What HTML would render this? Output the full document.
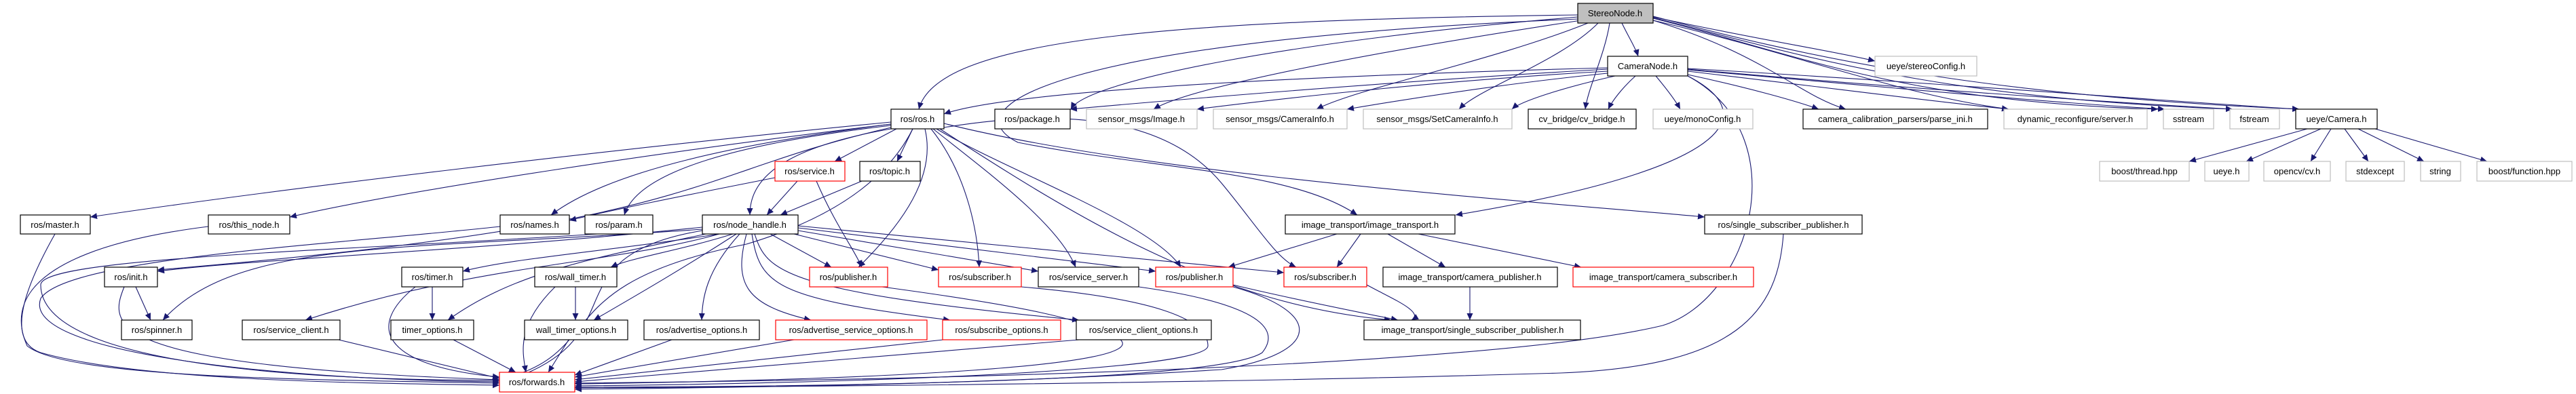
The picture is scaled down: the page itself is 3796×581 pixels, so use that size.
<!DOCTYPE html>
<html><head><meta charset="utf-8"><style>
html,body{margin:0;padding:0;background:#fff;}
svg{display:block;}
text{font-family:"Liberation Sans",sans-serif;font-size:13px;fill:#000;}
.b{fill:#fff;stroke:#000;stroke-width:1.2;}
.g{fill:#fff;stroke:#bfbfbf;stroke-width:1.2;}
.r{fill:#fff;stroke:#ff0000;stroke-width:1.2;}
.s{fill:#bfbfbf;stroke:#000;stroke-width:1.2;}
path.e{fill:none;stroke:#191970;stroke-width:1.1;marker-end:url(#a);}
</style></head><body>
<svg width="3796" height="581" viewBox="0 0 3796 581" xmlns="http://www.w3.org/2000/svg">
<defs><marker id="a" markerUnits="userSpaceOnUse" markerWidth="11" markerHeight="9" refX="10" refY="4.5" orient="auto"><path d="M0,0 L10,4.5 L0,9 z" fill="#191970"/></marker></defs>
<g>
<!-- StereoNode edges -->
<path class="e" d="M2325,22 C1700,30 1380,60 1354,161"/>
<path class="e" d="M2325,25 C1900,60 1600,120 1578,161"/>
<path class="e" d="M2330,30 C2000,80 1750,130 1700,161"/>
<path class="e" d="M2340,34 C2200,90 2000,130 1940,161"/>
<path class="e" d="M2355,34 C2300,90 2180,130 2150,161"/>
<path class="e" d="M2372,34 C2365,80 2340,130 2336,161"/>
<path class="e" d="M2390,34 C2400,55 2410,70 2414,83"/>
<path class="e" d="M2325,28 C1550,60 1400,160 1500,210 C1700,250 1900,250 2000,317"/>
<path class="e" d="M2436,25 C2600,60 2700,75 2763,90"/>
<path class="e" d="M2436,30 C2600,80 2650,140 2720,161"/>
<path class="e" d="M2436,30 C2650,80 2800,140 2960,161"/>
<path class="e" d="M2436,27 C2650,80 2800,150 3180,161"/>
<path class="e" d="M2436,26 C2650,80 2850,145 3290,161"/>
<path class="e" d="M2436,24 C2650,80 2900,140 3388,161"/>
<!-- CameraNode edges -->
<path class="e" d="M2369,100 C2000,110 1500,130 1391,168"/>
<path class="e" d="M2369,102 C2050,120 1700,150 1577,161"/>
<path class="e" d="M2369,105 C2100,120 1850,150 1764,161"/>
<path class="e" d="M2369,108 C2200,125 2050,150 1985,161"/>
<path class="e" d="M2380,112 C2300,130 2240,150 2228,161"/>
<path class="e" d="M2410,112 C2390,130 2375,150 2370,161"/>
<path class="e" d="M2440,112 C2455,130 2470,150 2476,161"/>
<path class="e" d="M2487,110 C2580,130 2650,150 2680,161"/>
<path class="e" d="M2487,105 C2700,130 2850,150 2960,161"/>
<path class="e" d="M2487,103 C2800,130 3000,150 3190,161"/>
<path class="e" d="M2487,102 C2800,130 3100,150 3290,161"/>
<path class="e" d="M2487,101 C2900,125 3200,150 3388,161"/>
<path class="e" d="M2487,112 C2600,170 2550,250 2145,317"/>
<path class="e" d="M2487,112 C2650,200 2580,440 2450,480 C2200,540 1400,560 847,565"/>
<!-- Camera.h -->
<path class="e" d="M3400,190 L3226,238"/>
<path class="e" d="M3420,190 L3310,238"/>
<path class="e" d="M3435,190 L3405,238"/>
<path class="e" d="M3455,190 L3490,238"/>
<path class="e" d="M3475,190 L3572,238"/>
<path class="e" d="M3500,190 L3665,238"/>
<!-- ros.h edges -->
<path class="e" d="M1313,180 C900,220 400,280 133,320"/>
<path class="e" d="M1313,183 C1000,220 600,280 427,320"/>
<path class="e" d="M1313,183 C1100,210 900,250 812,317"/>
<path class="e" d="M1313,185 C1100,210 940,250 920,317"/>
<path class="e" d="M1313,190 C1140,220 1105,270 1105,317"/>
<path class="e" d="M1321,190 L1230,238"/>
<path class="e" d="M1345,190 L1322,238"/>
<path class="e" d="M1313,188 C1000,260 1050,330 232,398"/>
<path class="e" d="M1363,190 C1380,260 1330,330 1265,394"/>
<path class="e" d="M1372,190 C1420,250 1440,330 1443,394"/>
<path class="e" d="M1375,190 C1450,250 1560,330 1585,394"/>
<path class="e" d="M1380,190 C1480,250 1700,330 1740,394"/>
<path class="e" d="M1391,188 C1500,170 1700,150 1800,270 C1850,330 1880,380 1910,394"/>
<path class="e" d="M1391,182 C1700,260 2300,300 2512,320"/>
<path class="e" d="M1385,190 C1600,330 1800,450 2050,472"/>
<path class="e" d="M1345,190 C1300,280 1200,330 1100,360 C800,420 900,520 736,560"/>
<!-- service.h -->
<path class="e" d="M1142,262 C1000,290 900,310 839,325"/>
<path class="e" d="M1175,267 L1130,317"/>
<path class="e" d="M1203,267 C1230,330 1260,370 1270,394"/>
<!-- topic -->
<path class="e" d="M1270,267 L1150,317"/>
<!-- image_transport -->
<path class="e" d="M1970,345 L1810,394"/>
<path class="e" d="M2005,345 L1970,394"/>
<path class="e" d="M2045,345 L2130,394"/>
<path class="e" d="M2090,345 L2330,394"/>
<path class="e" d="M2166,423 L2166,472"/>
<path class="e" d="M1817,420 C1900,440 2000,460 2060,472"/>
<path class="e" d="M2628,345 C2620,460 2560,540 2300,550 C1800,565 1200,570 847,572"/>
<!-- node_handle -->
<path class="e" d="M1035,335 C700,370 400,380 232,400"/>
<path class="e" d="M1035,338 C600,370 350,350 240,472"/>
<path class="e" d="M1060,345 C900,370 760,380 682,400"/>
<path class="e" d="M1080,345 C1000,370 930,380 900,394"/>
<path class="e" d="M1060,345 C900,390 700,390 450,472"/>
<path class="e" d="M1040,345 C880,380 760,400 660,472"/>
<path class="e" d="M1085,345 C1000,400 930,440 875,472"/>
<path class="e" d="M1090,345 C1040,400 1035,440 1034,472"/>
<path class="e" d="M1100,345 C1080,420 1100,450 1195,472"/>
<path class="e" d="M1108,345 C1120,420 1140,440 1400,472"/>
<path class="e" d="M1112,345 C1130,400 1150,430 1590,472"/>
<path class="e" d="M1135,345 L1225,394"/>
<path class="e" d="M1170,345 L1383,398"/>
<path class="e" d="M1176,340 L1530,400"/>
<path class="e" d="M1176,336 L1703,400"/>
<path class="e" d="M1176,333 L1892,402"/>
<path class="e" d="M1035,340 C800,380 950,500 736,565"/>
<!-- others to forwards -->
<path class="e" d="M81,345 C50,400 0,500 60,520 C200,560 500,565 736,568"/>
<path class="e" d="M307,334 C100,360 0,420 40,510 C100,560 500,560 736,565"/>
<path class="e" d="M737,334 C500,360 100,380 60,440 C30,520 400,560 736,563"/>
<path class="e" d="M880,345 C500,370 60,380 60,420 C60,560 600,560 736,561"/>
<path class="e" d="M183,423 C160,480 150,540 736,560"/>
<path class="e" d="M200,423 L222,472"/>
<path class="e" d="M499,501 L736,558"/>
<path class="e" d="M612,423 C540,480 560,540 736,556"/>
<path class="e" d="M637,423 L637,472"/>
<path class="e" d="M668,501 L760,549"/>
<path class="e" d="M818,423 C760,480 770,520 775,549"/>
<path class="e" d="M848,423 L848,472"/>
<path class="e" d="M838,501 L808,549"/>
<path class="e" d="M990,501 L847,553"/>
<path class="e" d="M1170,501 L847,556"/>
<path class="e" d="M1390,501 L847,560"/>
<path class="e" d="M1590,501 L847,563"/>
<path class="e" d="M1300,423 C1500,450 1600,470 1650,500 C1700,540 1300,560 847,566"/>
<path class="e" d="M1505,423 C1700,440 1780,470 1780,510 C1780,545 1300,565 847,569"/>
<path class="e" d="M1678,423 C1800,440 1900,470 1860,520 C1800,560 1300,570 847,571"/>
<path class="e" d="M1817,423 C1950,460 1950,520 1800,545 C1400,570 1000,572 847,574"/>
<path class="e" d="M2014,420 C2050,440 2100,460 2080,472"/>
</g>
<g>
<!-- Row 1 -->
<rect class="s" x="2325" y="5" width="111" height="29"/><text x="2380" y="24" text-anchor="middle">StereoNode.h</text>
<!-- Row 2 -->
<rect class="b" x="2369" y="83" width="118" height="29"/><text x="2428" y="102" text-anchor="middle">CameraNode.h</text>
<rect class="g" x="2763" y="83" width="150" height="29"/><text x="2838" y="102" text-anchor="middle">ueye/stereoConfig.h</text>
<!-- Row 3 -->
<rect class="b" x="1313" y="161" width="78" height="29"/><text x="1352" y="180" text-anchor="middle">ros/ros.h</text>
<rect class="b" x="1466" y="161" width="111" height="29"/><text x="1521" y="180" text-anchor="middle">ros/package.h</text>
<rect class="g" x="1601" y="161" width="163" height="29"/><text x="1682" y="180" text-anchor="middle">sensor_msgs/Image.h</text>
<rect class="g" x="1788" y="161" width="197" height="29"/><text x="1886" y="180" text-anchor="middle">sensor_msgs/CameraInfo.h</text>
<rect class="g" x="2009" y="161" width="219" height="29"/><text x="2118" y="180" text-anchor="middle">sensor_msgs/SetCameraInfo.h</text>
<rect class="b" x="2252" y="161" width="159" height="29"/><text x="2331" y="180" text-anchor="middle">cv_bridge/cv_bridge.h</text>
<rect class="g" x="2436" y="161" width="147" height="29"/><text x="2509" y="180" text-anchor="middle">ueye/monoConfig.h</text>
<rect class="b" x="2657" y="161" width="272" height="29"/><text x="2793" y="180" text-anchor="middle">camera_calibration_parsers/parse_ini.h</text>
<rect class="g" x="2953" y="161" width="211" height="29"/><text x="3058" y="180" text-anchor="middle">dynamic_reconfigure/server.h</text>
<rect class="g" x="3188" y="161" width="74" height="29"/><text x="3225" y="180" text-anchor="middle">sstream</text>
<rect class="g" x="3286" y="161" width="73" height="29"/><text x="3322" y="180" text-anchor="middle">fstream</text>
<rect class="b" x="3383" y="161" width="120" height="29"/><text x="3443" y="180" text-anchor="middle">ueye/Camera.h</text>
<!-- Row 4 -->
<rect class="r" x="1142" y="238" width="103" height="29"/><text x="1193" y="257" text-anchor="middle">ros/service.h</text>
<rect class="b" x="1267" y="238" width="89" height="29"/><text x="1311" y="257" text-anchor="middle">ros/topic.h</text>
<rect class="g" x="3094" y="238" width="132" height="29"/><text x="3160" y="257" text-anchor="middle">boost/thread.hpp</text>
<rect class="g" x="3249" y="238" width="65" height="29"/><text x="3281" y="257" text-anchor="middle">ueye.h</text>
<rect class="g" x="3336" y="238" width="98" height="29"/><text x="3385" y="257" text-anchor="middle">opencv/cv.h</text>
<rect class="g" x="3457" y="238" width="86" height="29"/><text x="3500" y="257" text-anchor="middle">stdexcept</text>
<rect class="g" x="3567" y="238" width="59" height="29"/><text x="3596" y="257" text-anchor="middle">string</text>
<rect class="g" x="3650" y="238" width="140" height="29"/><text x="3720" y="257" text-anchor="middle">boost/function.hpp</text>
<!-- Row 5 -->
<rect class="b" x="30" y="317" width="103" height="28"/><text x="81" y="336" text-anchor="middle">ros/master.h</text>
<rect class="b" x="307" y="317" width="120" height="28"/><text x="367" y="336" text-anchor="middle">ros/this_node.h</text>
<rect class="b" x="737" y="317" width="102" height="28"/><text x="788" y="336" text-anchor="middle">ros/names.h</text>
<rect class="b" x="862" y="317" width="100" height="28"/><text x="912" y="336" text-anchor="middle">ros/param.h</text>
<rect class="b" x="1035" y="317" width="141" height="28"/><text x="1105" y="336" text-anchor="middle">ros/node_handle.h</text>
<rect class="b" x="1894" y="317" width="250" height="28"/><text x="2019" y="336" text-anchor="middle">image_transport/image_transport.h</text>
<rect class="b" x="2512" y="317" width="232" height="28"/><text x="2628" y="336" text-anchor="middle">ros/single_subscriber_publisher.h</text>
<!-- Row 6 -->
<rect class="b" x="154" y="394" width="78" height="29"/><text x="193" y="413" text-anchor="middle">ros/init.h</text>
<rect class="b" x="592" y="394" width="90" height="29"/><text x="637" y="413" text-anchor="middle">ros/timer.h</text>
<rect class="b" x="788" y="394" width="121" height="29"/><text x="848" y="413" text-anchor="middle">ros/wall_timer.h</text>
<rect class="r" x="1193" y="394" width="115" height="29"/><text x="1250" y="413" text-anchor="middle">ros/publisher.h</text>
<rect class="r" x="1383" y="394" width="122" height="29"/><text x="1444" y="413" text-anchor="middle">ros/subscriber.h</text>
<rect class="b" x="1530" y="394" width="148" height="29"/><text x="1604" y="413" text-anchor="middle">ros/service_server.h</text>
<rect class="r" x="1703" y="394" width="114" height="29"/><text x="1760" y="413" text-anchor="middle">ros/publisher.h</text>
<rect class="r" x="1892" y="394" width="122" height="29"/><text x="1953" y="413" text-anchor="middle">ros/subscriber.h</text>
<rect class="b" x="2038" y="394" width="257" height="29"/><text x="2166" y="413" text-anchor="middle">image_transport/camera_publisher.h</text>
<rect class="r" x="2318" y="394" width="266" height="29"/><text x="2451" y="413" text-anchor="middle">image_transport/camera_subscriber.h</text>
<!-- Row 7 -->
<rect class="b" x="179" y="472" width="104" height="29"/><text x="231" y="491" text-anchor="middle">ros/spinner.h</text>
<rect class="b" x="357" y="472" width="144" height="29"/><text x="429" y="491" text-anchor="middle">ros/service_client.h</text>
<rect class="b" x="576" y="472" width="122" height="29"/><text x="637" y="491" text-anchor="middle">timer_options.h</text>
<rect class="b" x="773" y="472" width="152" height="29"/><text x="849" y="491" text-anchor="middle">wall_timer_options.h</text>
<rect class="b" x="949" y="472" width="170" height="29"/><text x="1034" y="491" text-anchor="middle">ros/advertise_options.h</text>
<rect class="r" x="1143" y="472" width="223" height="29"/><text x="1254" y="491" text-anchor="middle">ros/advertise_service_options.h</text>
<rect class="r" x="1389" y="472" width="174" height="29"/><text x="1476" y="491" text-anchor="middle">ros/subscribe_options.h</text>
<rect class="b" x="1586" y="472" width="199" height="29"/><text x="1685" y="491" text-anchor="middle">ros/service_client_options.h</text>
<rect class="b" x="2010" y="472" width="319" height="29"/><text x="2170" y="491" text-anchor="middle">image_transport/single_subscriber_publisher.h</text>
<!-- Row 8 -->
<rect class="r" x="736" y="549" width="111" height="29"/><text x="791" y="568" text-anchor="middle">ros/forwards.h</text>
</g>
</svg>
</body></html>
